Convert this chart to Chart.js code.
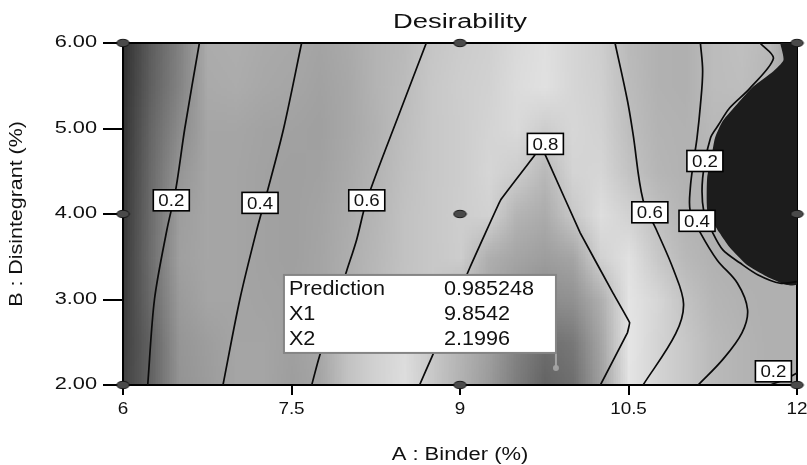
<!DOCTYPE html>
<html>
<head>
<meta charset="utf-8">
<script src="https://cdn.jsdelivr.net/npm/chart.js@4.4.1/dist/chart.umd.min.js"></script>
<style>
  html, body { margin: 0; padding: 0; background: #fff; }
</style>
</head>
<body>
<canvas id="c" width="807" height="465"></canvas>
<script>
// Axis ticks
const xTicks = [6, 7.5, 9, 10.5, 12];
const yTicks = [2, 3, 4, 5, 6];

// Grey-level surface of the desirability map (rows from B = 6 down to B = 2)
const shadeX = [6, 6.25, 6.5, 6.75, 7, 7.25, 7.5, 7.75, 8, 8.25, 8.5, 8.75, 9, 9.25, 9.5, 9.75, 10, 10.25, 10.5, 10.75, 11, 11.25, 11.5, 11.75, 12];
const shadeY = [6, 5.5, 5, 4.5, 4, 3.5, 3, 2.5, 2];
const shadeRow60 = [50, 95, 130, 172, 174, 170, 168, 164, 170, 180, 186, 198, 204, 208, 218, 224, 214, 206, 186, 178, 176, 188, 192, 185, 150];
const shadeRow55 = [52, 98, 132, 170, 172, 168, 166, 162, 168, 180, 188, 200, 206, 210, 220, 225, 214, 208, 188, 178, 176, 188, 190, 182, 170];
const shadeRow50 = [54, 104, 140, 166, 166, 163, 162, 160, 168, 178, 190, 200, 205, 212, 218, 205, 215, 210, 190, 180, 178, 185, 182, 180, 180];
const shadeRow45 = [56, 108, 150, 166, 165, 162, 160, 162, 170, 180, 192, 200, 205, 214, 205, 185, 212, 214, 195, 182, 178, 180, 180, 180, 180];
const shadeRow40 = [58, 110, 158, 166, 165, 162, 160, 164, 172, 182, 194, 200, 206, 210, 180, 172, 200, 222, 210, 192, 180, 176, 178, 180, 180];
const shadeRow35 = [60, 112, 160, 166, 165, 162, 160, 165, 174, 184, 194, 200, 205, 175, 165, 158, 165, 210, 225, 200, 185, 178, 175, 178, 178];
const shadeRow30 = [62, 108, 155, 165, 165, 163, 162, 165, 176, 186, 196, 200, 180, 165, 150, 140, 145, 175, 228, 215, 195, 182, 178, 176, 176];
const shadeRow25 = [65, 100, 150, 158, 165, 165, 160, 168, 195, 210, 220, 200, 180, 160, 130, 110, 120, 165, 230, 212, 200, 186, 180, 176, 176];
const shadeRow20 = [68, 100, 148, 156, 165, 165, 158, 165, 195, 210, 222, 200, 178, 155, 125, 100, 110, 160, 228, 212, 200, 186, 180, 176, 176];
const shadeRows = [shadeRow60, shadeRow55, shadeRow50, shadeRow45, shadeRow40, shadeRow35, shadeRow30, shadeRow25, shadeRow20];

// Zero-desirability region at high binder
const zeroRegion = [[11.85, 6.0], [12.0, 6.0], [12.0, 3.18], [11.91, 3.17], [11.73, 3.27], [11.55, 3.41], [11.40, 3.61], [11.31, 3.78], [11.24, 3.93], [11.20, 4.05], [11.20, 4.42], [11.24, 4.68], [11.27, 4.89], [11.34, 5.09], [11.47, 5.29], [11.61, 5.49], [11.79, 5.67], [11.88, 5.80], [11.85, 6.0]];

// Contour lines (A, B)
const contour02Left  = [[6.68, 6], [6.55, 5], [6.47, 4.29], [6.39, 3.81], [6.28, 3], [6.22, 2]];
const contour04Left  = [[7.59, 6], [7.43, 5], [7.28, 4.24], [7.19, 3.81], [7.04, 3], [6.89, 2]];
const contour06Left  = [[8.70, 6], [8.47, 5.21], [8.17, 4.16], [8.08, 3.7], [7.99, 3.33], [7.75, 2.34], [7.68, 2]];
const contour08      = [[8.64, 2], [8.75, 2.33], [9.09, 3.38], [9.36, 4.16], [9.65, 4.66], [9.72, 4.79], [9.78, 4.63], [10.07, 3.78], [10.36, 3.08], [10.51, 2.73], [10.49, 2.61], [10.25, 2]];
const contour06Right = [[10.38, 6], [10.49, 5.33], [10.54, 4.94], [10.63, 4.16], [10.75, 3.81], [10.90, 3.35], [10.99, 2.95], [10.92, 2.6], [10.63, 2]];
const contour04Right = [[11.14, 6], [11.16, 5.67], [11.14, 5.27], [11.11, 4.89], [11.08, 4.62], [11.05, 4.30], [11.05, 4.03], [11.14, 3.78], [11.29, 3.46], [11.47, 3.19], [11.56, 2.88], [11.51, 2.61], [11.34, 2.30], [11.12, 2]];
const contour02Right = [[11.67, 6], [11.79, 5.82], [11.58, 5.47], [11.40, 5.24], [11.30, 5.04], [11.23, 4.89], [11.16, 4.42], [11.17, 4.03], [11.25, 3.78], [11.34, 3.58], [11.49, 3.43], [11.65, 3.29], [11.85, 3.19], [12.0, 3.21]];
const contour02Corner = [[11.76, 2], [11.9, 2.07], [12.0, 2.14]];

// Contour value tags
const tagText = ['0.2', '0.4', '0.6', '0.8', '0.6', '0.2', '0.4', '0.2'];
const tagX = [6.43, 7.22, 8.17, 9.76, 10.69, 11.18, 11.11, 11.79];
const tagY = [4.16, 4.13, 4.16, 4.82, 4.02, 4.62, 3.92, 2.16];

// Design points of the 3x3 factorial
const designA = [6, 9, 12, 6, 9, 12, 6, 9, 12];
const designB = [2, 2, 2, 4, 4, 4, 6, 6, 6];

// Optimum
const predictionValue = 0.985248;
const optimumX1 = 9.8542;
const optimumX2 = 2.1996;

const toPts = arr => arr.map(p => ({ x: p[0], y: p[1] }));

const designMarker = (() => {
  const c = document.createElement('canvas');
  c.width = 15; c.height = 10;
  const g = c.getContext('2d');
  g.beginPath();
  g.ellipse(7.5, 5, 6.3, 3.7, 0, 0, Math.PI * 2);
  g.fillStyle = '#4a4a4a';
  g.fill();
  g.lineWidth = 1;
  g.strokeStyle = '#151515';
  g.stroke();
  return c;
})();

function lineSet(points, tension) {
  return {
    data: toPts(points),
    showLine: true,
    borderColor: '#0a0a0a',
    borderWidth: 1.7,
    pointRadius: 0,
    tension: tension,
    fill: false,
    order: 3
  };
}

function stretchedText(ctx, txt, x, y, font, sx, align, rot) {
  ctx.save();
  ctx.translate(x, y);
  if (rot) ctx.rotate(rot);
  ctx.scale(sx, 1);
  ctx.font = font;
  ctx.textAlign = align;
  ctx.textBaseline = 'middle';
  ctx.fillStyle = '#111';
  ctx.fillText(txt, 0, 0);
  ctx.restore();
}

const shading = {
  id: 'shading',
  beforeDatasetsDraw(chart) {
    const { ctx, chartArea: a, scales: { x, y } } = chart;
    const nx = shadeX.length, ny = shadeY.length;
    const off = document.createElement('canvas');
    off.width = nx; off.height = ny;
    const octx = off.getContext('2d');
    const img = octx.createImageData(nx, ny);
    for (let j = 0; j < ny; j++) {
      for (let i = 0; i < nx; i++) {
        const g = shadeRows[j][i];
        const k = (j * nx + i) * 4;
        img.data[k] = img.data[k + 1] = img.data[k + 2] = g;
        img.data[k + 3] = 255;
      }
    }
    octx.putImageData(img, 0, 0);
    const hx = (shadeX[1] - shadeX[0]) / 2, hy = (shadeY[0] - shadeY[1]) / 2;
    const left = x.getPixelForValue(shadeX[0] - hx);
    const right = x.getPixelForValue(shadeX[nx - 1] + hx);
    const top = y.getPixelForValue(shadeY[0] + hy);
    const bottom = y.getPixelForValue(shadeY[ny - 1] - hy);
    ctx.save();
    ctx.beginPath();
    ctx.rect(a.left, a.top, a.width, a.height);
    ctx.clip();
    ctx.imageSmoothingEnabled = true;
    ctx.imageSmoothingQuality = 'low';
    ctx.drawImage(off, left, top, right - left, bottom - top);
    ctx.restore();

    ctx.save();
    ctx.strokeStyle = '#000';
    ctx.lineWidth = 2;
    ctx.strokeRect(a.left, a.top, a.width, a.height);
    ctx.restore();
  }
};

const overlay = {
  id: 'overlay',
  afterDatasetsDraw(chart) {
    const { ctx, chartArea: a, scales: { x, y } } = chart;

    // contour value tags
    for (let i = 0; i < tagText.length; i++) {
      const px = x.getPixelForValue(tagX[i]);
      const py = y.getPixelForValue(tagY[i]);
      const w = 36, h = 21;
      ctx.save();
      ctx.fillStyle = '#fff';
      ctx.fillRect(px - w / 2, py - h / 2, w, h);
      ctx.strokeStyle = '#000';
      ctx.lineWidth = 1.6;
      ctx.strokeRect(px - w / 2, py - h / 2, w, h);
      ctx.restore();
      stretchedText(ctx, tagText[i], px, py + 1, '17px "Liberation Sans", Arial, sans-serif', 1.1, 'center');
    }

    // prediction flag
    const ox = x.getPixelForValue(optimumX1);
    const oy = y.getPixelForValue(optimumX2);
    const bw = 272, bh = 78;
    const bx = ox - bw, by = oy - 15 - bh;
    ctx.save();
    ctx.strokeStyle = '#a3a3a3';
    ctx.lineWidth = 2;
    ctx.beginPath();
    ctx.moveTo(ox, by + bh);
    ctx.lineTo(ox, oy);
    ctx.stroke();
    ctx.fillStyle = '#fff';
    ctx.fillRect(bx, by, bw, bh);
    ctx.strokeStyle = '#858585';
    ctx.lineWidth = 2;
    ctx.strokeRect(bx, by, bw, bh);
    ctx.restore();
    const f = '20px "Liberation Sans", Arial, sans-serif';
    const names = ['Prediction', 'X1', 'X2'];
    const vals = [String(predictionValue), String(optimumX1), String(optimumX2)];
    for (let r = 0; r < 3; r++) {
      stretchedText(ctx, names[r], bx + 5, by + 15 + r * 25, f, 1.08, 'left');
      stretchedText(ctx, vals[r], bx + 160, by + 15 + r * 25, f, 1.08, 'left');
    }
  },
  afterDraw(chart) {
    const { ctx, chartArea: a, scales: { x, y } } = chart;
    const cx = (a.left + a.right) / 2;
    const cy = (a.top + a.bottom) / 2;
    stretchedText(ctx, 'Desirability', cx, 22, '20px "Liberation Sans", Arial, sans-serif', 1.37, 'center');
    for (const v of yTicks) {
      stretchedText(ctx, v.toFixed(2), a.left - 26, y.getPixelForValue(v), '16px "Liberation Sans", Arial, sans-serif', 1.36, 'right');
    }
    for (const v of xTicks) {
      stretchedText(ctx, String(v), x.getPixelForValue(v), a.bottom + 25, '16px "Liberation Sans", Arial, sans-serif', 1.18, 'center');
    }
    stretchedText(ctx, 'A : Binder (%)', cx, 455, '18px "Liberation Sans", Arial, sans-serif', 1.22, 'center');
    stretchedText(ctx, 'B : Disintegrant (%)', 17, cy, '18px "Liberation Sans", Arial, sans-serif', 1.19, 'center', -Math.PI / 2);
  }
};

new Chart(document.getElementById('c'), {
  type: 'scatter',
  data: {
    datasets: [
      {
        data: [{ x: optimumX1, y: optimumX2 }],
        pointRadius: 3,
        pointBackgroundColor: '#a0a0a0',
        pointBorderWidth: 0,
        order: 0
      },
      {
        data: designA.map((a, i) => ({ x: a, y: designB[i] })),
        pointStyle: designMarker,
        clip: false,
        order: 1
      },
      lineSet(contour02Left, 0.3),
      lineSet(contour04Left, 0.3),
      lineSet(contour06Left, 0.3),
      lineSet(contour08, 0.05),
      lineSet(contour06Right, 0.35),
      lineSet(contour04Right, 0.35),
      lineSet(contour02Right, 0.3),
      lineSet(contour02Corner, 0.2),
      {
        data: toPts(zeroRegion),
        showLine: true,
        borderWidth: 0,
        borderColor: 'rgba(0,0,0,0)',
        backgroundColor: '#1c1c1c',
        pointRadius: 0,
        tension: 0.2,
        fill: 'shape',
        order: 5
      }
    ]
  },
  options: {
    responsive: false,
    animation: false,
    events: [],
    layout: { padding: { top: 43, right: 10, left: 0, bottom: 0 } },
    plugins: {
      legend: { display: false },
      tooltip: { enabled: false },
      title: { display: false }
    },
    scales: {
      x: {
        type: 'linear',
        min: 6, max: 12,
        afterBuildTicks: s => { s.ticks = xTicks.map(v => ({ value: v })); },
        afterFit: s => { s.height = 80; },
        ticks: { display: false },
        grid: { display: true, drawOnChartArea: false, drawTicks: true, tickLength: 10, color: '#000', lineWidth: 2 },
        border: { display: false }
      },
      y: {
        type: 'linear',
        min: 2, max: 6,
        afterBuildTicks: s => { s.ticks = yTicks.map(v => ({ value: v })); },
        afterFit: s => { s.width = 123; },
        ticks: { display: false },
        grid: { display: true, drawOnChartArea: false, drawTicks: true, tickLength: 20, color: '#000', lineWidth: 2 },
        border: { display: false }
      }
    }
  },
  plugins: [shading, overlay]
});
</script>
</body>
</html>
